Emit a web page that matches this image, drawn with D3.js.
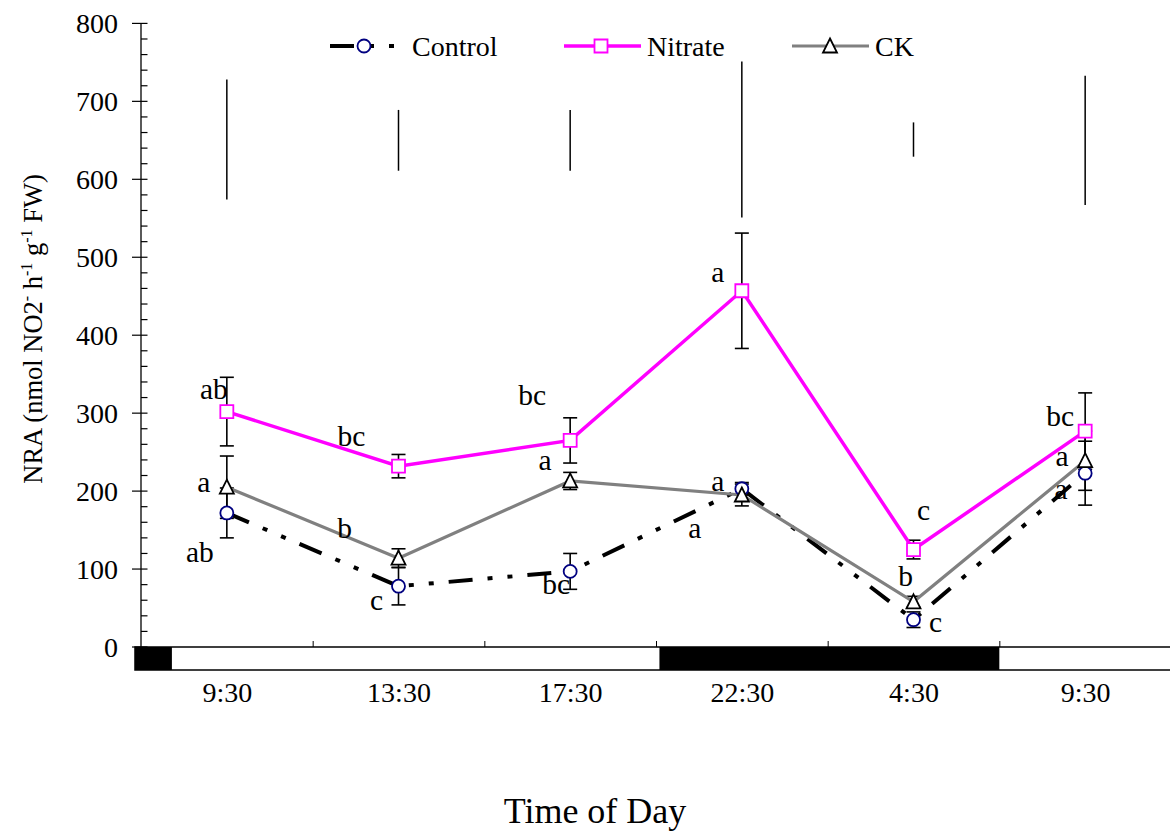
<!DOCTYPE html>
<html>
<head>
<meta charset="utf-8">
<script src="https://cdn.jsdelivr.net/npm/d3@7"></script>
<style>
  html, body { margin: 0; padding: 0; background: #fff; }
  svg { display: block; }
  text { font-family: "Liberation Serif", "Times New Roman", serif; fill: #000; }
</style>
</head>
<body>
<svg id="chart" width="1170" height="833" font-family="Liberation Serif, Times New Roman, serif"></svg>
<script>
// Sampling times along the x axis (two days: morning repeated at the end)
const categories = ["9:30", "13:30", "17:30", "22:30", "4:30", "9:30"];

// Nitrate reductase activity, mean and standard error per time point
const controlMean = [172, 78, 97, 203, 35, 223];
const controlErr  = [32, 24, 23, 8, 10, 41];
const nitrateMean = [302, 232, 265, 457, 125, 277];
const nitrateErr  = [44, 15, 29, 74, 12, 49];
const ckMean      = [205, 114, 213, 195, 58, 239];
const ckErr       = [40, 12, 11, 14, 7, 38];

// LSD bars drawn above the curves
const lsdCenter = [651, 650, 650, 651, 651, 650];
const lsdHalf   = [77, 39, 39, 100, 22, 83];

// Significance letters
const controlLetters = ["ab", "c", "bc", "a", "c", "a"];
const nitrateLetters = ["ab", "bc", "bc", "a", "c", "bc"];
const ckLetters      = ["a", "b", "a", "a", "b", "a"];

// Y axis ticks
const yTicks = [0, 100, 200, 300, 400, 500, 600, 700, 800];

// Dark periods on the day/night strip, in x-axis category units
const darkSpans = [[-0.035, 0.18], [3.02, 5.0]];
const stripSpan = [-0.035, 6];

const FONT = "'Liberation Serif', 'Times New Roman', serif";
const svg = d3.select("#chart");

const x = d3.scaleLinear().domain([0, categories.length]).range([141, 1171]);
const y = d3.scaleLinear().domain([0, 800]).range([647, 23.4]);
const cx = i => x(i + 0.5);

// ---- y axis ----
const yAxisG = svg.append("g").attr("transform", `translate(${x(0)},0)`);
yAxisG.append("line")
  .attr("x1", 0).attr("x2", 0).attr("y1", y(800)).attr("y2", y(0))
  .attr("stroke", "#000").attr("stroke-width", 1.3);
// minor ticks every 20, pointing inward
const minor = d3.range(0, 801, 20).filter(v => v % 100 !== 0);
yAxisG.selectAll(".minor").data(minor).join("line")
  .attr("x1", 0).attr("x2", 6.5)
  .attr("y1", d => y(d)).attr("y2", d => y(d))
  .attr("stroke", "#000").attr("stroke-width", 1.2);
// major ticks crossing the axis
yAxisG.selectAll(".major").data(yTicks).join("line")
  .attr("x1", -9).attr("x2", 6.5)
  .attr("y1", d => y(d)).attr("y2", d => y(d))
  .attr("stroke", "#000").attr("stroke-width", 1.2);
yAxisG.selectAll(".ylab").data(yTicks).join("text")
  .attr("x", -23).attr("y", d => y(d))
  .attr("dy", "0.35em")
  .attr("text-anchor", "end")
  .attr("font-family", FONT)
  .attr("font-size", 28)
  .text(d => d);

// ---- day/night strip ----
const stripG = svg.append("g");
stripG.append("rect")
  .attr("x", x(stripSpan[0])).attr("y", y(0))
  .attr("width", x(stripSpan[1]) - x(stripSpan[0])).attr("height", 23)
  .attr("fill", "#fff").attr("stroke", "#000").attr("stroke-width", 1.5);
stripG.selectAll(".dark").data(darkSpans).join("rect")
  .attr("x", d => x(d[0])).attr("y", y(0))
  .attr("width", d => x(d[1]) - x(d[0])).attr("height", 23)
  .attr("fill", "#000");

// ---- x axis: boundary ticks above the strip, labels below ----
const xTop = d3.axisTop(x).tickValues(d3.range(1, categories.length)).tickSize(6).tickFormat("");
const xTopG = svg.append("g").attr("transform", `translate(0,${y(0)})`).call(xTop);
xTopG.select(".domain").remove();
xTopG.selectAll("line").attr("stroke", "#000").attr("stroke-width", 1);

const xBottom = d3.axisBottom(x)
  .tickValues(categories.map((c, i) => i + 0.5))
  .tickSize(0).tickPadding(0)
  .tickFormat((d, i) => categories[i]);
const xBotG = svg.append("g").attr("transform", `translate(0,${y(0)})`).call(xBottom);
xBotG.select(".domain").remove();
xBotG.attr("font-family", FONT).attr("font-size", 28);
xBotG.selectAll("text")
  .attr("font-family", FONT)
  .attr("font-size", 28).attr("fill", "#000")
  .attr("y", 55).attr("dy", 0);

// ---- axis titles ----
svg.append("text")
  .attr("x", 595).attr("y", 823)
  .attr("text-anchor", "middle")
  .attr("font-family", FONT).attr("font-size", 36)
  .text("Time of Day");

const yTitle = svg.append("text")
  .attr("transform", "translate(42,329) rotate(-90)")
  .attr("text-anchor", "middle")
  .attr("font-family", FONT).attr("font-size", 26.5);
const titleParts = [
  ["NRA (nmol NO2", false], ["-", true], [" h", false], ["-1", true],
  [" g", false], ["-1", true], [" FW)", false]
];
titleParts.forEach(([t, sup]) => {
  const ts = yTitle.append("tspan").text(t);
  if (sup) ts.attr("font-size", 16).attr("baseline-shift", "60%");
});

// ---- LSD bars ----
svg.append("g").selectAll("line").data(lsdCenter).join("line")
  .attr("x1", (d, i) => cx(i)).attr("x2", (d, i) => cx(i))
  .attr("y1", (d, i) => y(d + lsdHalf[i])).attr("y2", (d, i) => y(d - lsdHalf[i]))
  .attr("stroke", "#000").attr("stroke-width", 1.5);

// ---- series definitions ----
const controlDash = "24,15,5,15,5,15";
const series = [
  { name: "Control", mean: controlMean, err: controlErr, letters: controlLetters,
    stroke: "#000", width: 4, dash: controlDash, marker: "circle", markerStroke: "#000080" },
  { name: "Nitrate", mean: nitrateMean, err: nitrateErr, letters: nitrateLetters,
    stroke: "#ff00ff", width: 3.5, dash: null, marker: "square", markerStroke: "#ff00ff" },
  { name: "CK", mean: ckMean, err: ckErr, letters: ckLetters,
    stroke: "#808080", width: 3.2, dash: null, marker: "triangle", markerStroke: "#000" }
];

const symbolPath = {
  circle: d3.symbol().type(d3.symbolCircle).size(Math.PI * 6.5 * 6.5)(),
  square: d3.symbol().type(d3.symbolSquare).size(13 * 13)(),
  triangle: "M0,-7.5L7,6.5L-7,6.5Z"
};

// ---- error bars ----
const capHalf = 7;
series.forEach(s => {
  const g = svg.append("g").attr("stroke", "#000").attr("stroke-width", 1.6);
  s.mean.forEach((m, i) => {
    const top = y(m + s.err[i]), bot = y(m - s.err[i]), xx = cx(i);
    g.append("line").attr("x1", xx).attr("x2", xx).attr("y1", top).attr("y2", bot);
    g.append("line").attr("x1", xx - capHalf).attr("x2", xx + capHalf).attr("y1", top).attr("y2", top);
    g.append("line").attr("x1", xx - capHalf).attr("x2", xx + capHalf).attr("y1", bot).attr("y2", bot);
  });
});

// ---- lines ----
const line = d3.line().x((d, i) => cx(i)).y(d => y(d));
series.forEach(s => {
  svg.append("path").datum(s.mean)
    .attr("d", line)
    .attr("fill", "none")
    .attr("stroke", s.stroke)
    .attr("stroke-width", s.width)
    .attr("stroke-dasharray", s.dash)
    .attr("stroke-linejoin", "miter");
});

// ---- markers ----
series.forEach(s => {
  svg.append("g").selectAll("path").data(s.mean).join("path")
    .attr("d", symbolPath[s.marker])
    .attr("transform", (d, i) => `translate(${cx(i)},${y(d)})`)
    .attr("fill", "#fff")
    .attr("stroke", s.markerStroke)
    .attr("stroke-width", 1.8);
});

// ---- significance letters (offsets in pixels from each point) ----
const letterOffsets = {
  Control: [[-27, 49], [-22, 24], [-14, 23], [-47, 49], [22, 12], [-24, 26]],
  Nitrate: [[-13, -13], [-47, -20], [-38, -35], [-24, -9], [10, -30], [-25, -5]],
  CK:      [[-23, 5], [-54, -20], [-25, -11], [-24, -4], [-8, -16], [-23, 5]]
};
series.forEach(s => {
  svg.append("g").selectAll("text").data(s.letters).join("text")
    .attr("x", (d, i) => cx(i) + letterOffsets[s.name][i][0])
    .attr("y", (d, i) => y(s.mean[i]) + letterOffsets[s.name][i][1])
    .attr("text-anchor", "middle")
    .attr("font-family", FONT)
    .attr("font-size", 29.5)
    .text(d => d);
});

// ---- legend ----
const legendY = 46;
const legendItems = [
  { s: series[0], x0: 330, x1: 399, mx: 364, tx: 412 },
  { s: series[1], x0: 564, x1: 641, mx: 601, tx: 647 },
  { s: series[2], x0: 792, x1: 869, mx: 830, tx: 875 }
];
const legG = svg.append("g");
legendItems.forEach(it => {
  legG.append("line")
    .attr("x1", it.x0).attr("x2", it.x1).attr("y1", legendY).attr("y2", legendY)
    .attr("stroke", it.s.stroke).attr("stroke-width", it.s.width)
    .attr("stroke-dasharray", it.s.dash);
  legG.append("path")
    .attr("d", symbolPath[it.s.marker])
    .attr("transform", `translate(${it.mx},${legendY})`)
    .attr("fill", "#fff").attr("stroke", it.s.markerStroke).attr("stroke-width", 1.8);
  legG.append("text")
    .attr("x", it.tx).attr("y", legendY).attr("dy", "0.35em")
    .attr("font-family", FONT)
    .attr("font-size", 28)
    .text(it.s.name);
});
</script>
</body>
</html>
